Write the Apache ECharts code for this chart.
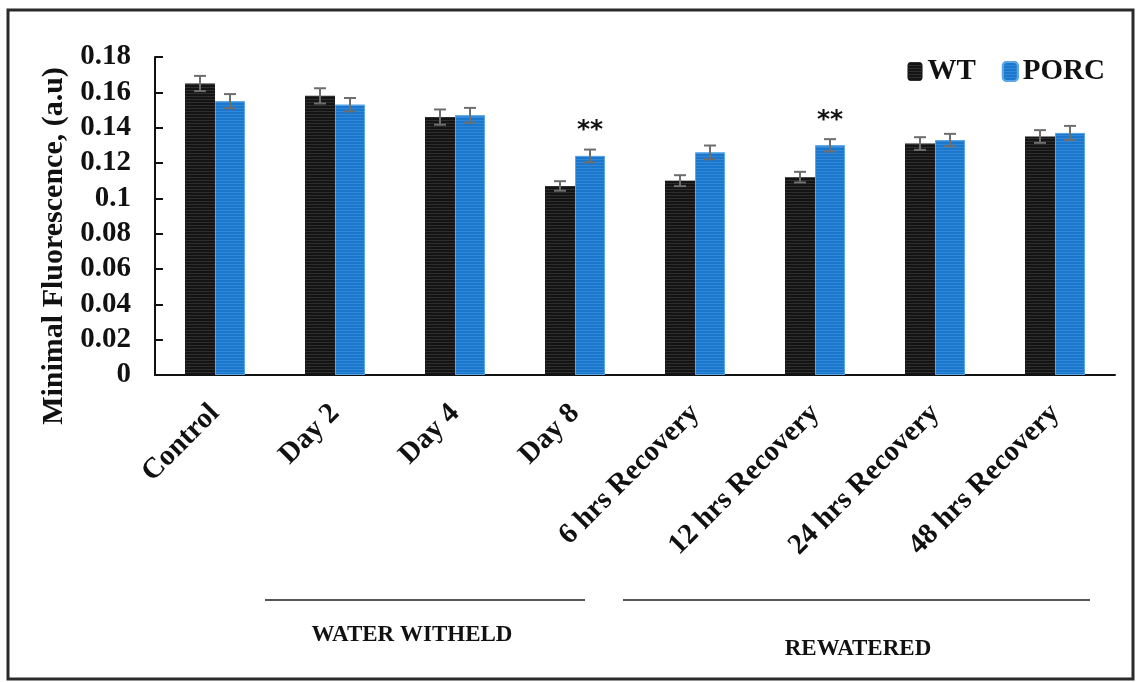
<!DOCTYPE html>
<html>
<head>
<meta charset="utf-8">
<script src="https://cdn.jsdelivr.net/npm/echarts@6/dist/echarts.min.js"></script>
<style>html,body{margin:0;padding:0;background:#fff;}#c{width:1136px;height:682px;}</style>
</head>
<body>
<div id="c"></div>
<script>
const categories = ['Control', 'Day 2', 'Day 4', 'Day 8', '6 hrs Recovery', '12 hrs Recovery', '24 hrs Recovery', '48 hrs Recovery'];
const wtValues   = [0.165, 0.158, 0.146, 0.107, 0.110, 0.112, 0.131, 0.135];
const wtErrors   = [0.0043, 0.0043, 0.0043, 0.0027, 0.0031, 0.0030, 0.0036, 0.0036];
const porcValues = [0.155, 0.153, 0.147, 0.124, 0.126, 0.130, 0.133, 0.137];
const porcErrors = [0.0040, 0.0038, 0.0042, 0.0036, 0.0039, 0.0035, 0.0035, 0.0040];
const significance = ['', '', '', '**', '', '**', '', ''];
const yTicks = { min: 0, max: 0.18, interval: 0.02 };
const groupLabels = ['WATER WITHELD', 'REWATERED'];

const FONT = '"Liberation Serif", "Times New Roman", serif';
const chart = echarts.init(document.getElementById('c'));

function errData(vals, errs) {
  return vals.map((v, i) => [i, v - errs[i], v + errs[i], v]);
}
function errRender(sign, marks) {
  return function (params, api) {
    const idx = api.value(0);
    const band = api.size([1, 0])[0];
    const off = sign * band * 0.125;
    const lo = api.coord([idx, api.value(1)]);
    const hi = api.coord([idx, api.value(2)]);
    const x = lo[0] + off;
    const cap = 6;
    const style = { stroke: '#6e6e6e', lineWidth: 2 };
    const children = [
      { type: 'line', shape: { x1: x, y1: lo[1], x2: x, y2: hi[1] }, style },
      { type: 'line', shape: { x1: x - cap, y1: lo[1], x2: x + cap, y2: lo[1] }, style },
      { type: 'line', shape: { x1: x - cap, y1: hi[1], x2: x + cap, y2: hi[1] }, style }
    ];
    if (marks && marks[idx]) {
      children.push({ type: 'text', style: { text: marks[idx], x: x, y: hi[1] - 19, align: 'center', verticalAlign: 'middle', font: 'bold 25px "DejaVu Sans", sans-serif', fill: '#111' } });
    }
    return { type: 'group', children };
  };
}

const decalBlack = { symbol: 'rect', symbolSize: 1, dashArrayX: [[1, 0]], dashArrayY: [1, 2], color: 'rgba(70,70,70,0.55)' };
const decalBlue = { symbol: 'rect', symbolSize: 1, dashArrayX: [[1, 0]], dashArrayY: [1, 2], color: 'rgba(70,150,225,0.55)' };

chart.setOption({
  animation: false,
  backgroundColor: '#fff',
  grid: { left: 155, right: 21, top: 57, bottom: 307 },
  legend: {
    right: 26, top: 52,
    itemWidth: 15, itemHeight: 19, itemGap: 26,
    textStyle: { fontFamily: FONT, fontWeight: 'bold', fontSize: 29, color: '#111' },
    data: ['WT', 'PORC']
  },
  xAxis: {
    type: 'category',
    data: categories,
    axisLine: { lineStyle: { color: '#111', width: 2 } },
    axisTick: { inside: true, length: 8, lineStyle: { color: '#111', width: 2 } },
    axisLabel: { rotate: 45, margin: 34, fontFamily: FONT, fontWeight: 'bold', fontSize: 29, color: '#111' }
  },
  yAxis: {
    type: 'value',
    min: yTicks.min, max: yTicks.max, interval: yTicks.interval,
    name: 'Minimal Fluorescence, (a.u)',
    nameLocation: 'middle', nameGap: 84,
    nameTextStyle: { fontFamily: FONT, fontWeight: 'bold', fontSize: 30, color: '#111', padding: [0, 60, 0, 0] },
    splitLine: { show: false },
    axisLine: { show: true, lineStyle: { color: '#111', width: 2 } },
    axisTick: { show: true, inside: true, length: 8, lineStyle: { color: '#111', width: 2 } },
    axisLabel: { margin: 24, fontFamily: FONT, fontWeight: 'bold', fontSize: 29, color: '#111' }
  },
  series: [
    { name: 'WT', type: 'bar', data: wtValues, barWidth: '25%', barGap: '0%',
      itemStyle: { color: '#141414', decal: decalBlack } },
    { name: 'PORC', type: 'bar', data: porcValues, barWidth: '25%', barGap: '0%',
      itemStyle: { color: '#1b77cc', borderColor: '#5aa6e6', borderWidth: 1, decal: decalBlue } },
    { name: 'WT err', type: 'custom', data: errData(wtValues, wtErrors), renderItem: errRender(-1), z: 5, encode: { x: 0, y: [1, 2] } },
    { name: 'PORC err', type: 'custom', data: errData(porcValues, porcErrors), renderItem: errRender(1, significance), z: 5, encode: { x: 0, y: [1, 2] } }
  ],
  graphic: [
    { type: 'rect', shape: { x: 8, y: 10, width: 1125, height: 669 }, style: { fill: 'none', stroke: '#2a2a2a', lineWidth: 3 }, silent: true },
    { type: 'line', shape: { x1: 265, y1: 600, x2: 585, y2: 600 }, style: { stroke: '#555', lineWidth: 2 } },
    { type: 'line', shape: { x1: 623, y1: 600, x2: 1090, y2: 600 }, style: { stroke: '#555', lineWidth: 2 } },
    { type: 'text', x: 412, y: 635, style: { text: groupLabels[0], align: 'center', verticalAlign: 'middle', font: 'bold 23px "Liberation Serif", serif', fill: '#111' } },
    { type: 'text', x: 858, y: 649, style: { text: groupLabels[1], align: 'center', verticalAlign: 'middle', font: 'bold 23px "Liberation Serif", serif', fill: '#111' } }
  ]
});
</script>
</body>
</html>
